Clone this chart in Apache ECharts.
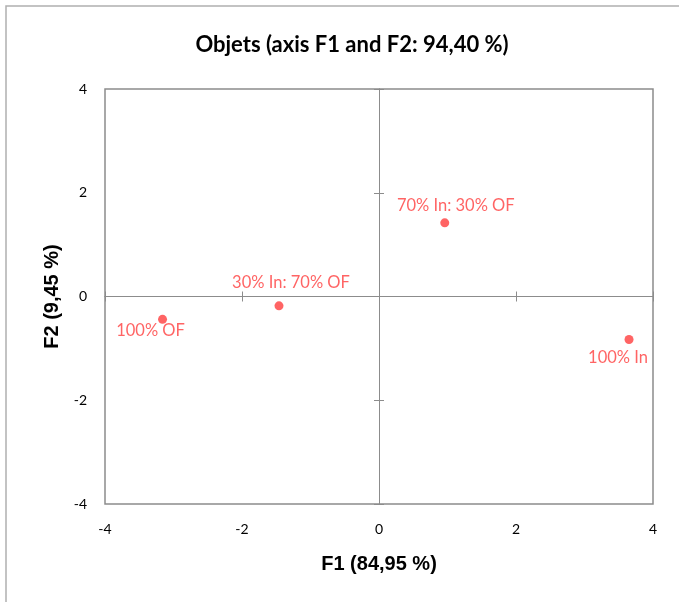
<!DOCTYPE html>
<html>
<head>
<meta charset="utf-8">
<script src="https://cdn.jsdelivr.net/npm/echarts@6/dist/echarts.min.js"></script>
<style>
  html, body { margin: 0; padding: 0; background: #fff; }
  #chart { width: 679px; height: 602px; }
</style>
</head>
<body>
<div id="chart"></div>
<script>
// Factor scores of the observations on the first two axes
const objectNames = ['100% OF', '30% In: 70% OF', '70% In: 30% OF', '100% In'];
const f1Scores = [-3.16, -1.46, 0.96, 3.65];
const f2Scores = [-0.44, -0.18, 1.42, -0.83];
const labelPositions = ['bottom', 'top', 'top', 'bottom'];
const axisTicks = [-4, -2, 0, 2, 4];

const chart = echarts.init(document.getElementById('chart'));

const pointColor = '#ff3d3d';
const gridGrey = '#8c8c8c';
const labelFont = 'Lato, "Open Sans", sans-serif';
const titleFont = 'Arial, "Liberation Sans", sans-serif';

// small nudges so each label sits beside its point without overlapping
const labelOffsets = [[-12, -8], [12, -4], [11, 2], [-11, -1]];

const points = objectNames.map((name, i) => ({
  name: name,
  value: [f1Scores[i], f2Scores[i]],
  label: { position: labelPositions[i], offset: labelOffsets[i] }
}));

const baseRange = { min: axisTicks[0], max: axisTicks[axisTicks.length - 1], interval: 2 };

function zeroAxis(inside) {
  return Object.assign({}, baseRange, {
    type: 'value',
    axisLine: { show: true, onZero: true, onZeroAxisIndex: 0, lineStyle: { color: gridGrey, width: 1 } },
    axisTick: { show: true, inside: inside, length: 5, lineStyle: { color: gridGrey } },
    axisLabel: { show: false },
    splitLine: { show: false }
  });
}

chart.setOption({
  backgroundColor: '#fff',
  animation: false,
  graphic: [{
    type: 'rect',
    shape: { x: 6, y: 6, width: 800, height: 800 },
    style: { fill: 'none', stroke: '#b0b0b0', lineWidth: 1.5 },
    silent: true
  }],
  title: {
    text: 'Objets (axis F1 and F2: 94,40 %)',
    left: 347,
    top: 29,
    textAlign: 'center',
    textStyle: { fontFamily: labelFont, fontWeight: 'bold', fontSize: 22, color: '#000' }
  },
  grid: {
    left: 105, right: 26, top: 89, bottom: 98,
    show: true, borderColor: gridGrey, borderWidth: 1.5, backgroundColor: 'transparent'
  },
  xAxis: [
    Object.assign({}, baseRange, {
      type: 'value',
      position: 'bottom',
      name: 'F1 (84,95 %)',
      nameLocation: 'middle',
      nameGap: 50,
      nameTextStyle: { fontFamily: titleFont, fontWeight: 'bold', fontSize: 20, color: '#000' },
      axisLine: { show: false },
      axisTick: { show: false },
      axisLabel: { margin: 18, fontFamily: labelFont, fontSize: 14, color: '#000' },
      splitLine: { show: false }
    }),
    Object.assign(zeroAxis(true), { position: 'bottom' }),
    Object.assign(zeroAxis(false), { position: 'bottom' })
  ],
  yAxis: [
    Object.assign({}, baseRange, {
      type: 'value',
      position: 'left',
      name: 'F2 (9,45 %)',
      nameLocation: 'middle',
      nameGap: 43,
      nameRotate: 90,
      nameTextStyle: { fontFamily: titleFont, fontWeight: 'bold', fontSize: 20, color: '#000' },
      axisLine: { show: false },
      axisTick: { show: false },
      axisLabel: { margin: 18, fontFamily: labelFont, fontSize: 14, color: '#000' },
      splitLine: { show: false }
    }),
    Object.assign(zeroAxis(true), { position: 'left' }),
    Object.assign(zeroAxis(false), { position: 'left' })
  ],
  series: [{
    type: 'scatter',
    xAxisIndex: 0,
    yAxisIndex: 0,
    symbol: 'circle',
    symbolSize: 9,
    itemStyle: { color: pointColor },
    label: {
      show: true,
      formatter: '{b}',
      distance: 6,
      fontFamily: labelFont,
      fontSize: 16.5,
      color: pointColor
    },
    data: points
  }]
});
</script>
</body>
</html>
